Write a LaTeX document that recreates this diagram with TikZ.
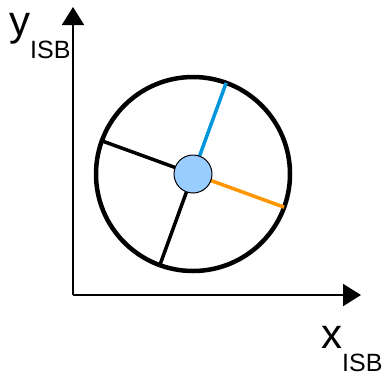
\documentclass[tikz,border=0pt]{standalone}
\usepackage{fontspec}
\setmainfont{Liberation Sans}
\usetikzlibrary{arrows.meta}
\definecolor{spokeBlue}{RGB}{0, 150, 220}
\definecolor{spokeOrange}{RGB}{255, 150, 0}
\definecolor{hubBlue}{RGB}{153, 204, 255}
\newcommand{\isbLabel}[1]{#1\raisebox{-23pt}{\fontsize{25}{25}\selectfont ISB}}
\begin{document}
\begin{tikzpicture}[
    x=1pt, y=-1pt,
    axis_line/.style={
        line width=2pt,
        -{Triangle[length=18pt, width=22pt]}
    },
    axis_label/.style={
        anchor=base west,
        inner sep=0pt,
        font=\fontsize{42}{42}\selectfont
    },
    rim_node/.style={
        circle,
        draw=black,
        line width=4.5pt,
        minimum size=194pt,
        inner sep=0pt,
        outer sep=0pt
    },
    hub_node/.style={
        circle,
        draw=black,
        line width=1pt,
        fill=hubBlue,
        minimum size=38pt,
        inner sep=0pt
    },
    spoke_line/.style={
        line width=3.5pt
    }
]
    \useasboundingbox (0, 0) rectangle (390, 373);

    % Axes
    \coordinate (origin) at (73, 295);
    \coordinate (x_end) at (361, 295);
    \coordinate (y_end) at (73, 7);
    \draw[axis_line] (origin) -- (x_end);
    \draw[axis_line] (origin) -- (y_end);
    \node[axis_label] (y_label) at (9, 35) {\isbLabel{y}};
    \node[axis_label] (x_label) at (321, 348) {\isbLabel{x}};

    % Wheel
    \node[rim_node] (wheel) at (193, 174) {};
    \coordinate (hub_c) at (193, 174);
    \draw[spoke_line, spokeBlue] (hub_c) -- (wheel.70);
    \draw[spoke_line, spokeOrange] (hub_c) -- (wheel.-20);
    \draw[spoke_line, black] (hub_c) -- (wheel.160);
    \draw[spoke_line, black] (hub_c) -- (wheel.250);
    \node[hub_node] (hub) at (hub_c) {};
\end{tikzpicture}
\end{document}
